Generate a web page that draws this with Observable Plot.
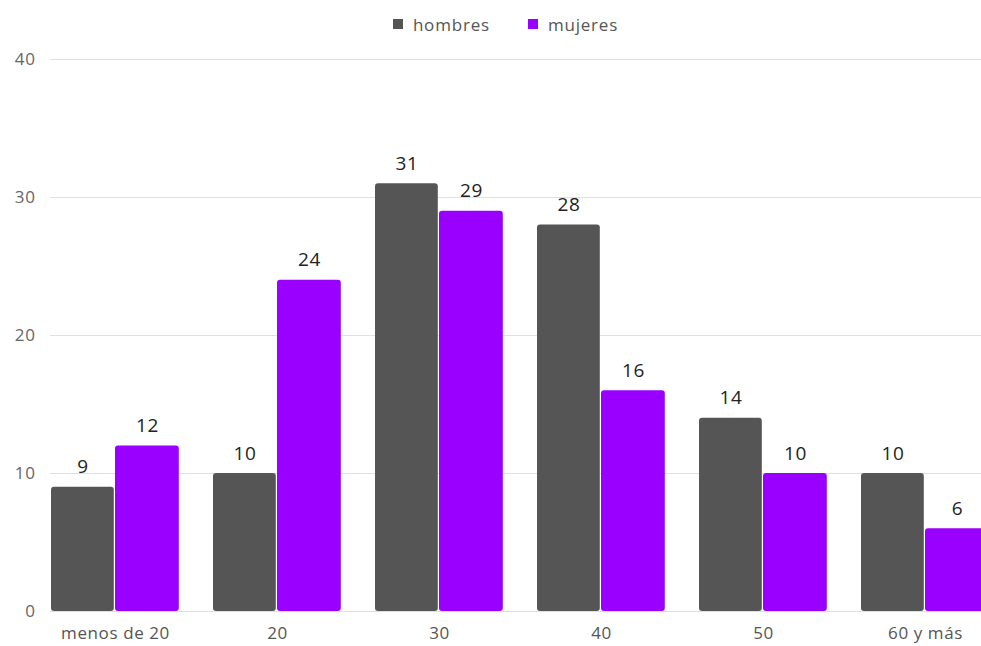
<!DOCTYPE html>
<html>
<head>
<meta charset="utf-8">
<script src="https://cdn.jsdelivr.net/npm/d3@7"></script>
<script src="https://cdn.jsdelivr.net/npm/@observablehq/plot@0.6"></script>
<style>
  body { margin: 0; background: #fff; font-family: "Open Sans", sans-serif; }
  #legend { height: 48px; display: flex; justify-content: center; align-items: center; gap: 38px; font-size: 17px; letter-spacing: 0.8px; color: #555; padding-left: 30px; box-sizing: border-box; }
  #legend span.item { display: flex; align-items: center; gap: 10px; }
  #legend span.sw { width: 10px; height: 10px; display: inline-block; }
  #chart svg text { letter-spacing: 0.6px; }
</style>
</head>
<body>
<div id="legend"></div>
<div id="chart"></div>
<script>
const categories = ["menos de 20", "20", "30", "40", "50", "60 y más"];
const hombres = [9, 10, 31, 28, 14, 10];
const mujeres = [12, 24, 29, 16, 10, 6];
const series = ["hombres", "mujeres"];
const colors = ["#555555", "#9900ff"];
const yTicks = [0, 10, 20, 30, 40];

const legend = document.getElementById("legend");
series.forEach((s, i) => {
  const it = document.createElement("span");
  it.className = "item";
  it.innerHTML = `<span class="sw" style="background:${colors[i]}"></span><span>${s}</span>`;
  legend.appendChild(it);
});

const hData = categories.map((c, i) => ({cat: c, value: hombres[i]}));
const mData = categories.map((c, i) => ({cat: c, value: mujeres[i]}));

const step = 162.2;
const start = 33;

const chart = Plot.plot({
  width: 981,
  height: 598,
  marginLeft: 50,
  marginRight: 0,
  marginTop: 11,
  marginBottom: 35,
  style: {fontFamily: "Open Sans, sans-serif", background: "#fff"},
  x: {domain: categories, range: [start, start + step * categories.length], padding: 0, label: null},
  y: {domain: [0, 40], ticks: yTicks, label: null},
  marks: [
    Plot.ruleY(yTicks, {stroke: "#e0e0e0", strokeWidth: 1}),
    Plot.barY(hData, {x: "cat", y: "value", fill: colors[0], insetLeft: 17, insetRight: step - 17 - 63, rx: 3}),
    Plot.barY(mData, {x: "cat", y: "value", fill: colors[1], insetLeft: 81, insetRight: step - 81 - 64, rx: 3}),
    Plot.text(hData, {x: "cat", y: "value", text: d => String(d.value), dx: 17 + 31.5 - step / 2, dy: -14, lineAnchor: "bottom", fontSize: 19, fill: "#222"}),
    Plot.text(mData, {x: "cat", y: "value", text: d => String(d.value), dx: 81 + 32 - step / 2, dy: -14, lineAnchor: "bottom", fontSize: 19, fill: "#222"}),
    Plot.axisY({ticks: yTicks, tickSize: 0, tickPadding: 15, fontSize: 17, color: "#666", label: null}),
    Plot.axisX({tickSize: 0, tickPadding: 15, fontSize: 17, color: "#555", label: null})
  ]
});
document.getElementById("chart").appendChild(chart);
</script>
</body>
</html>
